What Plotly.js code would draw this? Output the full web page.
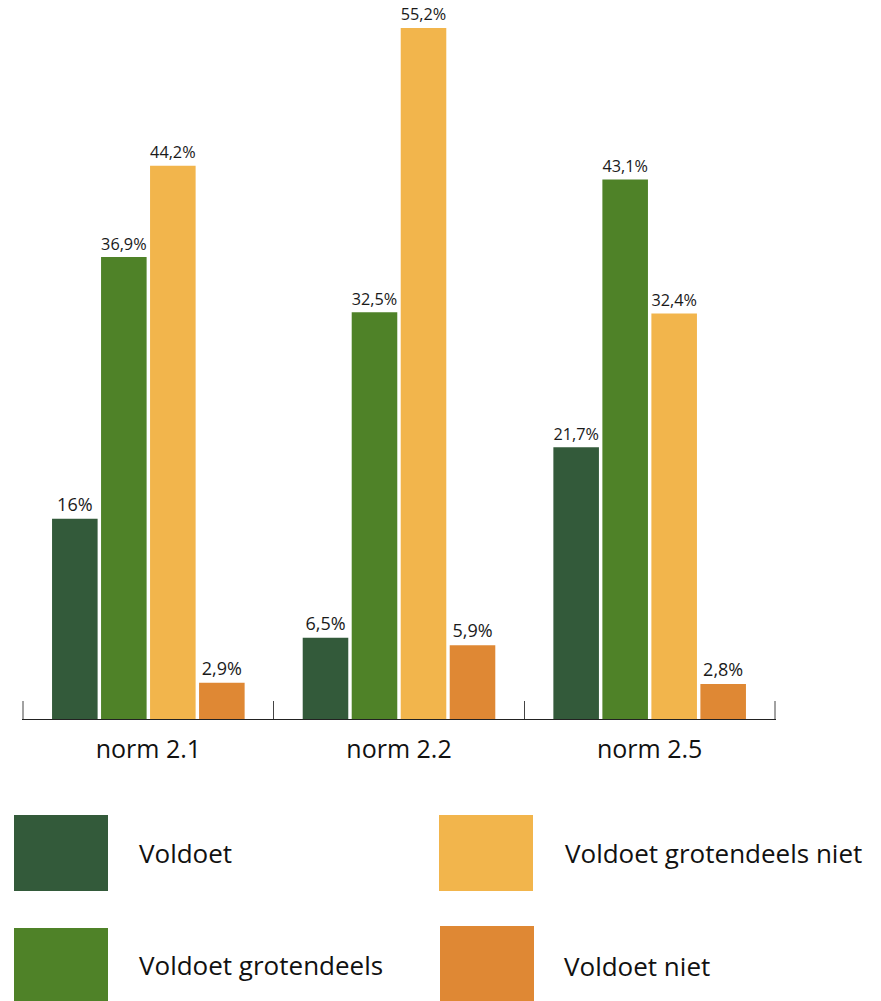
<!DOCTYPE html>
<html>
<head>
<meta charset="utf-8">
<script src="https://cdn.plot.ly/plotly-3.0.1.min.js"></script>
<style>html,body{margin:0;padding:0;background:#fff;}#chart{width:881px;height:1001px;}</style>
</head>
<body>
<div id="chart"></div>
<script>
const categories = ["norm 2.1", "norm 2.2", "norm 2.5"];
const seriesNames = ["Voldoet", "Voldoet grotendeels", "Voldoet grotendeels niet", "Voldoet niet"];
const voldoet = [16, 6.5, 21.7];
const voldoetGrotendeels = [36.9, 32.5, 43.1];
const voldoetGrotendeelsNiet = [44.2, 55.2, 32.4];
const voldoetNiet = [2.9, 5.9, 2.8];
const seriesColors = ["#335a3a", "#4f8228", "#f2b54c", "#df8834"];

const seriesValues = [voldoet, voldoetGrotendeels, voldoetGrotendeelsNiet, voldoetNiet];
const fmt = v => String(v).replace('.', ',') + '%';

const traces = seriesValues.map((vals, i) => ({
  type: 'bar',
  x: categories,
  y: vals,
  name: seriesNames[i],
  marker: {color: seriesColors[i], line: {width: 0}},
  text: vals.map(fmt),
  textposition: 'outside',
  textfont: {family: 'Open Sans', size: 18, color: '#1a1a1a'},
  cliponaxis: false,
  hoverinfo: 'skip'
}));

// plot-area geometry in pixels (for legend placement)
const W = 881, H = 1001;
const mL = 22, mR = 105, mT = 18, mB = 282;
const pw = W - mL - mR, ph = H - mT - mB;
const px = x => (x - mL) / pw;
const py = y => (H - mB - y) / ph;

const legendBoxes = [
  {x0: 14, x1: 108, y0: 815, y1: 891, tx: 137, ty: 853},
  {x0: 14, x1: 108, y0: 928, y1: 1001, tx: 137, ty: 965},
  {x0: 439, x1: 533, y0: 815, y1: 891, tx: 563, ty: 853},
  {x0: 440, x1: 534, y0: 926, y1: 1001, tx: 562, ty: 966}
];

const shapes = legendBoxes.map((b, i) => ({
  type: 'rect', xref: 'paper', yref: 'paper',
  x0: px(b.x0), x1: px(b.x1), y0: py(b.y1), y1: py(b.y0),
  fillcolor: seriesColors[i], line: {width: 0}
}));

// end ticks of the category axis (outer boundaries)
[-0.5, categories.length - 0.5].forEach(xb => {
  shapes.push({
    type: 'line', xref: 'x', yref: 'paper',
    x0: xb, x1: xb, y0: 0, y1: 18 / ph,
    line: {color: '#444', width: 1}
  });
});

const annotations = legendBoxes.map((b, i) => ({
  xref: 'paper', yref: 'paper', x: px(b.tx), y: py(b.ty),
  xanchor: 'left', yanchor: 'middle', showarrow: false,
  text: seriesNames[i],
  font: {family: 'Open Sans', size: 26, color: '#111'}
}));

const layout = {
  width: W, height: H,
  margin: {l: mL, r: mR, t: mT, b: mB, pad: 0},
  paper_bgcolor: '#fff', plot_bgcolor: '#fff',
  barmode: 'group',
  bargap: 0.218,
  bargroupgap: 0.07,
  showlegend: false,
  xaxis: {
    type: 'category',
    range: [-0.504, 2.504],
    showline: true, linecolor: '#222', linewidth: 1,
    ticks: 'inside', tickson: 'boundaries', ticklen: 18, tickwidth: 1, tickcolor: '#444',
    tickfont: {family: 'Open Sans', size: 25, color: '#111'},
    ticklabelstandoff: 8,
    showgrid: false, zeroline: false, fixedrange: true
  },
  yaxis: {
    range: [0, 56], visible: false, showgrid: false, zeroline: false, fixedrange: true
  },
  shapes: shapes,
  annotations: annotations,
  font: {family: 'Open Sans'}
};

Plotly.newPlot('chart', traces, layout, {displayModeBar: false, staticPlot: true});
</script>
</body>
</html>
